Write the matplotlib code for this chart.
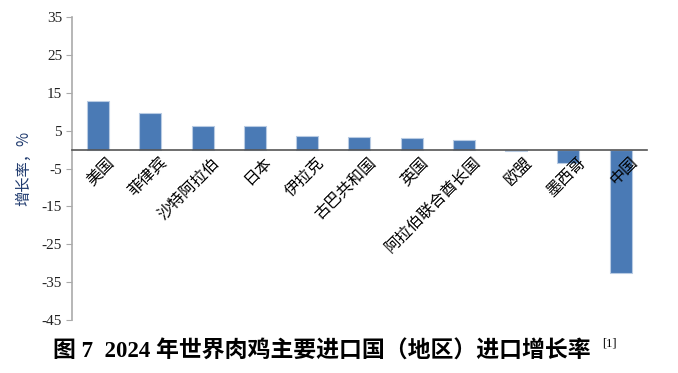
import matplotlib.pyplot as plt
import numpy as np
from matplotlib.transforms import ScaledTranslation

# data
countries = ["美国", "菲律宾", "沙特阿拉伯", "日本", "伊拉克", "古巴共和国",
             "英国", "阿拉伯联合酋长国", "欧盟", "墨西哥", "中国"]
growth = [12.9, 9.6, 6.3, 6.3, 3.7, 3.3, 3.0, 2.6, -0.3, -3.5, -32.6]
y_ticks = [35, 25, 15, 5, -5, -15, -25, -35, -45]

plt.rcParams["font.family"] = ["Liberation Serif", "Noto Sans CJK SC"]


def main() -> None:
    fig = plt.figure(figsize=(6.78, 3.73), dpi=100)
    ax = fig.add_axes([0.106, 0.142, 0.848, 0.812])

    x = np.arange(len(countries))
    ax.bar(x, growth, width=0.42, color="#4a7ab5", edgecolor="#b8cbe3",
           linewidth=0.8, zorder=1)

    ax.set_xlim(-0.5, len(countries) - 0.5)
    ax.set_ylim(-45, 35)
    ax.set_yticks(y_ticks)
    ax.set_yticklabels([str(v) for v in y_ticks], fontsize=11, color="#222222",
                       family="Liberation Serif")

    # x axis sits on zero, labels rotated next to it
    ax.spines["bottom"].set_position(("data", 0))
    ax.spines["bottom"].set_color("#555555")
    ax.spines["bottom"].set_linewidth(1.2)
    ax.spines["bottom"].set_zorder(3)
    ax.spines["left"].set_color("#aaaaaa")
    ax.spines["left"].set_linewidth(1.2)
    ax.spines["top"].set_visible(False)
    ax.spines["right"].set_visible(False)

    ax.set_xticks(x)
    ax.set_xticklabels(countries, rotation=45, ha="right", rotation_mode="anchor",
                       fontsize=11.5, family=["Noto Sans CJK SC"])
    ax.tick_params(axis="x", length=0, pad=3)
    ax.tick_params(axis="y", direction="out", length=4, color="#aaaaaa", pad=3)
    shift = ScaledTranslation(6 / 72, 0, fig.dpi_scale_trans)
    for lbl in ax.get_xticklabels():
        lbl.set_transform(lbl.get_transform() + shift)
        lbl.set_zorder(5)

    ax.set_ylabel("增长率，%", fontsize=11, color="#1f3a6e",
                  family=["Noto Sans CJK SC"], labelpad=7)

    fig.text(0.475, 0.056, "图 7  2024 年世界肉鸡主要进口国（地区）进口增长率",
             ha="center", va="center", fontsize=16.5, fontweight="bold",
             family=["Liberation Serif", "Noto Sans CJK SC"])
    fig.text(0.888, 0.078, "[1]", ha="left", va="center", fontsize=9)

    fig.savefig("out.png", dpi=100)


if __name__ == "__main__":
    main()
